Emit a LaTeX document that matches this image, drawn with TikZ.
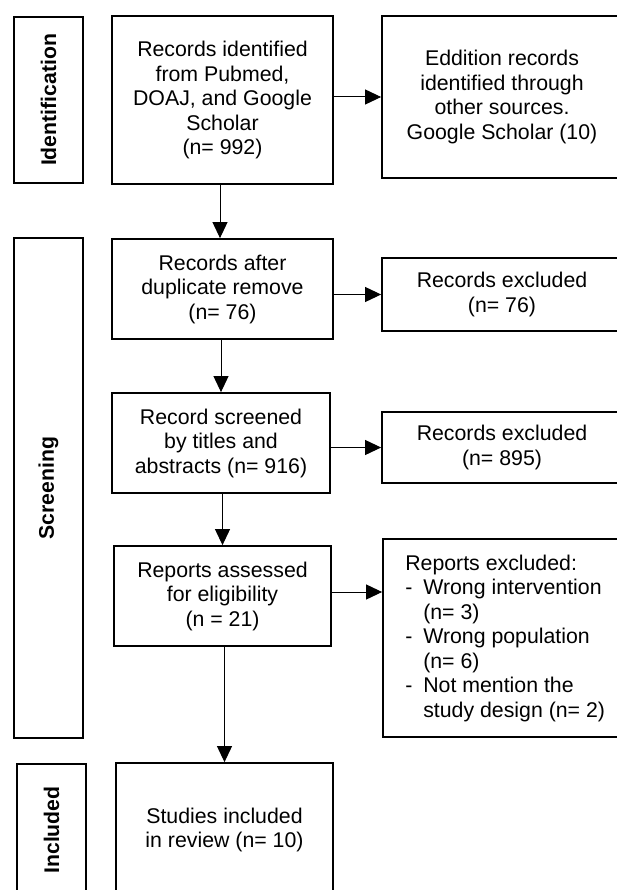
\documentclass[tikz,border=0pt]{standalone}
\usepackage{fontspec}
\setmainfont{Liberation Sans}
\usetikzlibrary{arrows.meta}
\begin{document}
\begin{tikzpicture}[x=1pt,y=1pt,
  txt/.style={font=\fontsize{21.3}{24.5}\selectfont},
  box/.style={draw=black, line width=1.8pt, inner sep=0pt, align=center, txt},
  side/.style={draw=black, line width=1.5pt, inner sep=0pt},
  sidetxt/.style={font=\fontsize{21.2}{24}\selectfont\bfseries, rotate=90, inner sep=0pt},
  arr/.style={line width=1pt, -{Triangle[length=16pt,width=15pt]}}]
\useasboundingbox (0,0) rectangle (617,-890);
\clip (0,0) rectangle (617,-890);
% side labels
\node[side, minimum width=69pt, minimum height=166pt] (sid) at (48.5,-100) {};
\node[sidetxt] (sidt) at (sid.center) {Identification};
\node[side, minimum width=69pt, minimum height=500pt] (ssc) at (48.5,-488) {};
\node[sidetxt] (ssct) at (ssc.center) {Screening};
\node[side, minimum width=69pt, minimum height=132pt] (sin) at (51.5,-830) {};
\node[sidetxt] (sint) at (sin.center) {Included};
% main column
\node[box, minimum width=221pt, minimum height=168pt] (b1) at (222.5,-100)
  {Records identified\\from Pubmed,\\DOAJ, and Google\\Scholar\\(n= 992)};
\node[box, minimum width=221pt, minimum height=100pt] (b2) at (222.5,-289)
  {Records after\\duplicate remove\\(n= 76)};
\node[box, minimum width=218pt, minimum height=100pt] (b3) at (221,-443)
  {Record screened\\by titles and\\abstracts (n= 916)};
\node[box, minimum width=217pt, minimum height=100pt] (b4) at (222.5,-596)
  {Reports assessed\\for eligibility\\(n = 21)};
\node[box, minimum width=217pt, minimum height=134pt] (b5) at (224.5,-830)
  {Studies included\\in review (n= 10)};
% right column
\node[box, minimum width=240pt, minimum height=162pt] (r1) at (502,-97)
  {Eddition records\\identified through\\other sources.\\Google Scholar (10)};
\node[box, minimum width=240pt, minimum height=73pt] (r2) at (502,-294.5)
  {Records excluded\\(n= 76)};
\node[box, minimum width=240pt, minimum height=71pt] (r3) at (502,-447.5)
  {Records excluded\\(n= 895)};
\node[box, minimum width=239pt, minimum height=198pt] (r4) at (502.5,-638) {};
\node[txt, anchor=west, align=left, inner sep=0pt] (r4t) at ([xshift=23pt]r4.west)
  {Reports excluded:\\
   \makebox[18pt][l]{-}Wrong intervention\\
   \hspace*{18pt}(n= 3)\\
   \makebox[18pt][l]{-}Wrong population\\
   \hspace*{18pt}(n= 6)\\
   \makebox[18pt][l]{-}Not mention the\\
   \hspace*{18pt}study design (n= 2)};
% arrows
\draw[arr] ([xshift=-2.5pt]b1.south) -- ([xshift=-2.5pt]b2.north);
\draw[arr] (b3.north |- b2.south) -- (b3.north);
\draw[arr] (b4.north |- b3.south) -- (b4.north);
\draw[arr] (b5.north |- b4.south) -- (b5.north);
\draw[arr] (b1.east |- r1.west) -- (r1.west);
\draw[arr] (b2.east |- r2.west) -- (r2.west);
\draw[arr] (b3.east |- r3.west) -- (r3.west);
\draw[arr] ([yshift=4pt]b4.east) -- ([yshift=4pt]b4.east -| r4.west);
\end{tikzpicture}
\end{document}
